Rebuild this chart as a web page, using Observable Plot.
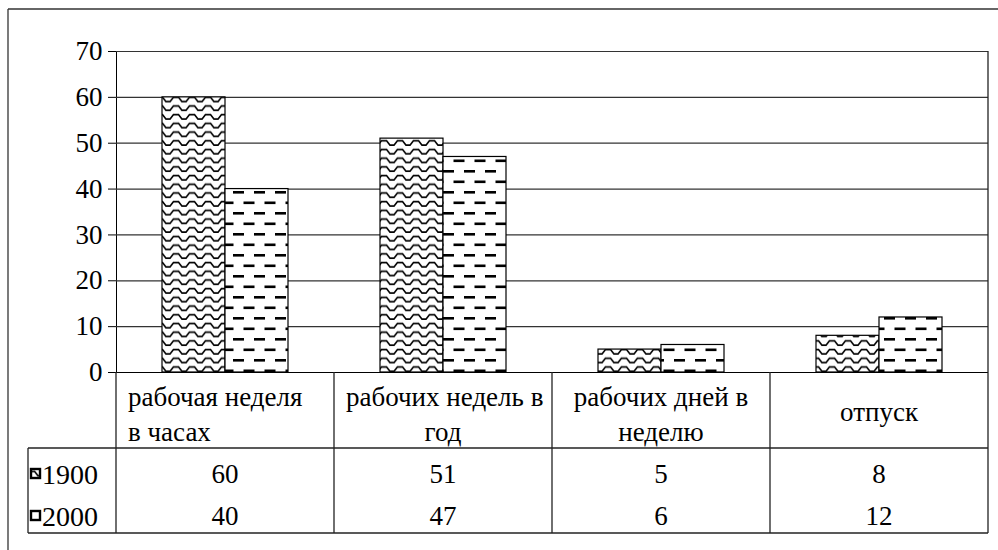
<!DOCTYPE html>
<html>
<head>
<meta charset="utf-8">
<script src="https://cdn.jsdelivr.net/npm/d3@7"></script>
<script src="https://cdn.jsdelivr.net/npm/@observablehq/plot@0.6"></script>
<style>
  html, body { margin: 0; padding: 0; background: white; }
  #chart { width: 998px; height: 550px; overflow: hidden; }
  #chart svg, #chart svg text { font-family: "Liberation Serif", "Times New Roman", "Liberation Sans", Arial, sans-serif !important; }
</style>
</head>
<body>
<div id="chart"></div>
<script>
// ---- data ----
const categories = ["рабочая неделя в часах", "рабочих недель в год", "рабочих дней в неделю", "отпуск"];
const categoryLines = [["рабочая неделя", "в часах"], ["рабочих недель в", "год"], ["рабочих дней в", "неделю"], ["отпуск"]];
const seriesNames = ["1900", "2000"];
const values1900 = [60, 51, 5, 8];
const values2000 = [40, 47, 6, 12];
const yTicks = [0, 10, 20, 30, 40, 50, 60, 70];

const rows = categories.map((c, i) => ({cat: c, v1900: values1900[i], v2000: values2000[i]}));

const W = 998, H = 550;
const mL = 116, mR = 10, mT = 51, mB = 178;
const pIn = 0.422, pOut = 0.211;
const step = (W - mL - mR) / categories.length;
const half = step * (1 - pIn) / 2;

const plot = Plot.plot({
  width: W, height: H,
  marginTop: mT, marginBottom: mB, marginLeft: mL, marginRight: mR,
  style: {fontSize: "27px", background: "white", color: "black", overflow: "visible"},
  x: {domain: categories, paddingInner: pIn, paddingOuter: pOut, axis: null},
  y: {domain: [0, 70], ticks: yTicks, tickSize: 8, tickPadding: 6, label: null, line: true, tickFormat: d => String(d)},
  marks: [
    Plot.ruleY(yTicks.slice(1), {stroke: "#333", strokeWidth: 1.2}),
    Plot.barY(rows, {x: "cat", y: "v1900", fill: "url(#pWave)", stroke: "black", strokeWidth: 1.2, insetRight: half}),
    Plot.barY(rows, {x: "cat", y: "v2000", fill: "url(#pDash)", stroke: "black", strokeWidth: 1.2, insetLeft: half}),
    Plot.ruleY([0], {stroke: "black", strokeWidth: 1.2})
  ]
});

document.getElementById("chart").appendChild(plot);

const svg = d3.select(plot);
const defs = svg.insert("defs", ":first-child");

// wave pattern (1900)
const pw = defs.append("pattern").attr("id", "pWave").attr("patternUnits", "userSpaceOnUse")
  .attr("width", 16).attr("height", 8.7);
pw.append("rect").attr("width", 16).attr("height", 8.7).attr("fill", "white");
pw.append("path").attr("d", "M0,1.5 H2.5 L6,6 H10 L13.5,1.5 H16")
  .attr("fill", "none").attr("stroke", "black").attr("stroke-width", 1.7);

// dash pattern (2000)
const pd = defs.append("pattern").attr("id", "pDash").attr("patternUnits", "userSpaceOnUse")
  .attr("width", 21).attr("height", 21);
pd.append("rect").attr("width", 21).attr("height", 21).attr("fill", "white");
pd.append("rect").attr("x", 2).attr("y", 2).attr("width", 11).attr("height", 2.6).attr("fill", "black");
pd.append("rect").attr("x", 12.5).attr("y", 12.5).attr("width", 8.5).attr("height", 2.6).attr("fill", "black");
pd.append("rect").attr("x", 0).attr("y", 12.5).attr("width", 2.5).attr("height", 2.6).attr("fill", "black");

const xs = plot.scale("x");
const ys = plot.scale("y");
const y0 = ys.apply(0);
const yTop = ys.apply(70);
const cellStart = c => xs.apply(c) + xs.bandwidth / 2 - xs.step / 2;
const cellW = xs.step;
const xRight = cellStart(categories[categories.length - 1]) + cellW;
const tableLeft = mL - 88;

const g = svg.append("g");
const line = (x1, y1, x2, y2, col = "#222") =>
  g.append("line").attr("x1", x1).attr("y1", y1).attr("x2", x2).attr("y2", y2)
    .attr("stroke", col).attr("stroke-width", 1.3);

// outer chart border (top & left visible)
line(8, 9, W, 9, "#333");
line(8, 9, 8, H, "#333");
// plot area right border
line(xRight, yTop, xRight, y0 + 161);
// axis line extension through the table
line(mL, y0, mL, y0 + 161);
// table lines
line(tableLeft, y0 + 76, xRight, y0 + 76);
line(tableLeft, y0 + 161, xRight, y0 + 161);
line(tableLeft, y0 + 76, tableLeft, y0 + 161);
categories.forEach((c, i) => { if (i > 0) line(cellStart(c), y0, cellStart(c), y0 + 161); });

// clip paths per cell
categories.forEach((c, i) => {
  defs.append("clipPath").attr("id", "cell" + i)
    .append("rect").attr("x", cellStart(c) + 1).attr("y", y0).attr("width", cellW - 2).attr("height", 76);
});

const txt = (x, y, s, anchor, clip, size = 27) => {
  const t = g.append("text").attr("x", x).attr("y", y).attr("text-anchor", anchor)
    .attr("dominant-baseline", "central").attr("font-size", size)
    .attr("fill", "black").text(s);
  if (clip != null) t.attr("clip-path", `url(#cell${clip})`);
  return t;
};

// category labels
categoryLines.forEach((lines, i) => {
  const c = categories[i];
  const x0 = cellStart(c), cx = xs.apply(c) + xs.bandwidth / 2;
  if (lines.length === 1) {
    txt(cx, y0 + 40, lines[0], "middle", i);
  } else {
    lines.forEach((s, j) => {
      const yy = y0 + 25 + j * 35;
      let anchor = "middle", xx = cx;
      if (i === 0 || (i === 1 && j === 0)) { anchor = "start"; xx = x0 + 12; }
      txt(xx, yy, s, anchor, i);
    });
  }
});

// data rows
[values1900, values2000].forEach((vals, r) => {
  const yy = y0 + 102 + r * 42;
  vals.forEach((v, i) => {
    const c = categories[i];
    txt(xs.apply(c) + xs.bandwidth / 2, yy, String(v), "middle");
  });
  // legend key + series name
  g.append("rect").attr("x", tableLeft + 3).attr("y", yy - 5).attr("width", 9).attr("height", 9)
    .attr("fill", r === 0 ? "url(#pWave)" : "white").attr("stroke", "black").attr("stroke-width", 2.4);
  txt(tableLeft + 14, yy, seriesNames[r], "start", null, 28);
});
</script>
</body>
</html>
